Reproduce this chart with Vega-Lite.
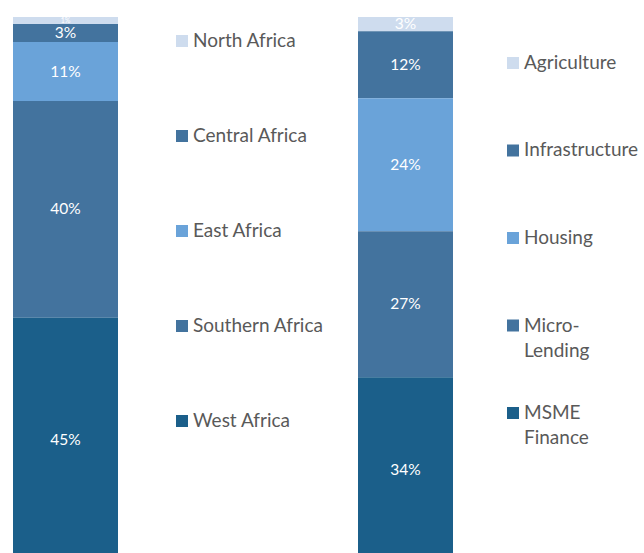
{
  "$schema": "https://vega.github.io/schema/vega-lite/v6.json",
  "padding": {"left": 13, "top": 16, "right": 0, "bottom": 0},
  "background": "white",
  "config": {"view": {"stroke": null}, "font": "Lato"},
  "datasets": {
    "regions": [
      {"name": "North Africa", "share": 0.013, "rank": 5},
      {"name": "Central Africa", "share": 0.033, "rank": 4},
      {"name": "East Africa", "share": 0.108, "rank": 3},
      {"name": "Southern Africa", "share": 0.398, "rank": 2},
      {"name": "West Africa", "share": 0.448, "rank": 1}
    ],
    "sectors": [
      {"name": "Agriculture", "share": 0.026, "rank": 5},
      {"name": "Infrastructure", "share": 0.123, "rank": 4},
      {"name": "Housing", "share": 0.244, "rank": 3},
      {"name": "Micro-\nLending", "share": 0.268, "rank": 2},
      {"name": "MSME\nFinance", "share": 0.339, "rank": 1}
    ]
  },
  "spacing": 60,
  "bounds": "flush",
  "resolve": {"scale": {"x": "independent", "y": "independent", "color": "independent"}},
  "hconcat": [
    {
      "width": 105,
      "height": 545,
      "data": {"name": "regions"},
      "transform": [
        {"stack": "share", "groupby": [], "sort": [{"field": "rank", "order": "ascending"}], "as": ["y0", "y1"]},
        {"calculate": "(datum.y0 + datum.y1) / 2", "as": "ymid"}
      ],
      "layer": [
        {
          "mark": {"type": "bar"},
          "encoding": {
            "x": {"datum": "a", "type": "nominal", "scale": {"paddingInner": 0, "paddingOuter": 0}, "axis": null},
            "y": {"field": "y0", "type": "quantitative", "scale": {"domain": [0, 1], "nice": false}, "axis": null},
            "y2": {"field": "y1"},
            "color": {"field": "name", "type": "nominal", "legend": null,
              "scale": {"domain": ["North Africa", "Central Africa", "East Africa", "Southern Africa", "West Africa"],
                        "range": ["#cedcee", "#43739e", "#6aa3d9", "#43739e", "#1b5f8a"]}}
          }
        },
        {
          "mark": {"type": "text", "color": "white", "font": "Lato"},
          "encoding": {
            "y": {"field": "ymid", "type": "quantitative", "scale": {"domain": [0, 1], "nice": false}, "axis": null},
            "text": {"field": "share", "type": "quantitative", "format": ".0%"},
            "size": {"condition": {"test": "datum.share < 0.02", "value": 7}, "value": 15.5}
          }
        }
      ]
    },
    {
      "width": 120,
      "height": 428,
      "data": {"name": "regions"},
      "encoding": {
        "y": {"field": "name", "type": "nominal", "sort": ["North Africa", "Central Africa", "East Africa", "Southern Africa", "West Africa"],
              "scale": {"type": "point", "padding": 0.2526}, "axis": null},
        "x": {"datum": 0, "type": "quantitative", "scale": {"domain": [0, 1], "padding": 4}, "axis": null}
      },
      "layer": [
        {
          "mark": {"type": "point", "shape": "square", "filled": true, "size": 144, "opacity": 1},
          "encoding": {
            "color": {"field": "name", "type": "nominal", "legend": null,
              "scale": {"domain": ["North Africa", "Central Africa", "East Africa", "Southern Africa", "West Africa"],
                        "range": ["#cedcee", "#43739e", "#6aa3d9", "#43739e", "#1b5f8a"]}}
          }
        },
        {
          "mark": {"type": "text", "align": "left", "baseline": "alphabetic", "dx": 11, "dy": 6, "fontSize": 19, "color": "#595959", "font": "Lato", "lineBreak": "\n", "lineHeight": 25},
          "encoding": {"text": {"field": "name"}}
        }
      ]
    },
    {
      "width": 95,
      "height": 545,
      "data": {"name": "sectors"},
      "transform": [
        {"stack": "share", "groupby": [], "sort": [{"field": "rank", "order": "ascending"}], "as": ["y0", "y1"]},
        {"calculate": "(datum.y0 + datum.y1) / 2", "as": "ymid"}
      ],
      "layer": [
        {
          "mark": {"type": "bar"},
          "encoding": {
            "x": {"datum": "a", "type": "nominal", "scale": {"paddingInner": 0, "paddingOuter": 0}, "axis": null},
            "y": {"field": "y0", "type": "quantitative", "scale": {"domain": [0, 1], "nice": false}, "axis": null},
            "y2": {"field": "y1"},
            "color": {"field": "name", "type": "nominal", "legend": null,
              "scale": {"domain": ["Agriculture", "Infrastructure", "Housing", "Micro-\nLending", "MSME\nFinance"],
                        "range": ["#cedcee", "#43739e", "#6aa3d9", "#43739e", "#1b5f8a"]}}
          }
        },
        {
          "mark": {"type": "text", "color": "white", "font": "Lato", "fontSize": 15.5},
          "encoding": {
            "y": {"field": "ymid", "type": "quantitative", "scale": {"domain": [0, 1], "nice": false}, "axis": null},
            "text": {"field": "share", "type": "quantitative", "format": ".0%"}
          }
        }
      ]
    },
    {
      "width": 100,
      "height": 442,
      "data": {"name": "sectors"},
      "encoding": {
        "y": {"field": "name", "type": "nominal", "sort": ["Agriculture", "Infrastructure", "Housing", "Micro-\nLending", "MSME\nFinance"],
              "scale": {"type": "point", "padding": 0.5257}, "axis": null},
        "x": {"datum": 0, "type": "quantitative", "scale": {"domain": [0, 1]}, "axis": null}
      },
      "layer": [
        {
          "mark": {"type": "point", "shape": "square", "filled": true, "size": 144, "opacity": 1},
          "encoding": {
            "color": {"field": "name", "type": "nominal", "legend": null,
              "scale": {"domain": ["Agriculture", "Infrastructure", "Housing", "Micro-\nLending", "MSME\nFinance"],
                        "range": ["#cedcee", "#43739e", "#6aa3d9", "#43739e", "#1b5f8a"]}}
          }
        },
        {
          "mark": {"type": "text", "align": "left", "baseline": "alphabetic", "dx": 11, "dy": 6, "fontSize": 19, "color": "#595959", "font": "Lato", "lineBreak": "\n", "lineHeight": 25},
          "encoding": {"text": {"field": "name"}}
        }
      ]
    }
  ]
}
